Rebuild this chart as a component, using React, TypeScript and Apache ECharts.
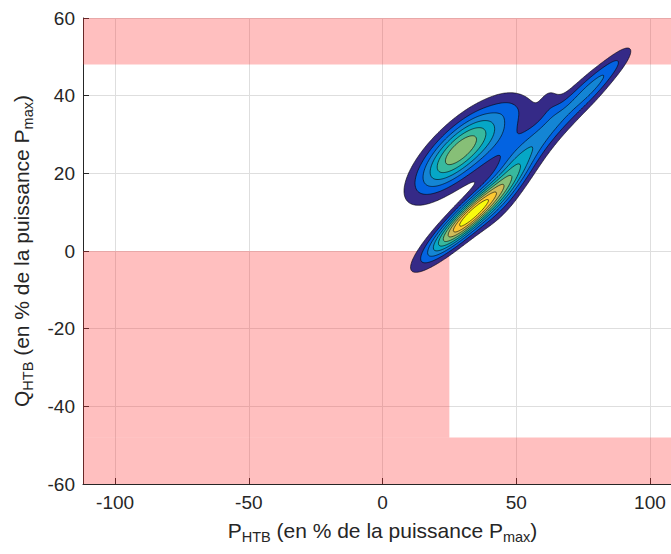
import React, { useEffect, useRef } from 'react';
import * as echarts from 'echarts';

// ---------- data ----------
const yTickStep = 20;
const xMin = -112;
const xMax = 112;
const yMin = -60;
const yMax = 60;

// forbidden (pink) zones: [x0, x1] x [y0, y1]
const zoneX0 = [-112, -112, -112];
const zoneX1 = [112, 25, 112];
const zoneY0 = [48, -48, -60];
const zoneY1 = [60, 0, -48];

// density surface = sum of oriented Gaussian bumps
const compCx = [33.3, 24.45, 32.15, 46, 85.5, 77, 68, 59, 50, 62.5, 48, 45];
const compCy = [9.3, 23.3, 27.9, 30, 47, 41.4, 35.4, 29, 22.5, 38.5, 37, 13];
const compSa = [12.5, 11, 11, 11, 7.5, 6.6, 6.6, 6.6, 6.6, 3.6, 4, 8];
const compSb = [2.4, 4.2, 4.2, 5, 2.0, 2.5, 2.7, 2.8, 2.9, 2.6, 2.0, 3];
const compAng = [32, 31, 31, 30, 34, 34, 34, 34, 34, 60, 0, 40];
const compAmp = [9.8, 3.55, 3.55, 1.6, 1.9, 2.1, 2.0, 2.1, 2.3, 0.75, 0.4, 1.2];

// contour levels and parula colours
const levels = [1, 2, 3, 4, 5, 6, 7, 8, 9];
const levelColors = ['#352A87', '#0363E1', '#1485D4', '#06A7C6', '#38B99E', '#87BF77', '#D1BB59', '#FEC832', '#F9FB0E'];

// sampling grid of the surface
const gridX0 = -6, gridX1 = 104, gridY0 = -16, gridY1 = 60, gridStep = 0.4;

const FONT = '"Liberation Sans", Arial, Helvetica, sans-serif';
const AX = '#262626';

function density(x: number, y: number) {
  let s = 0;
  for (let k = 0; k < compAmp.length; k++) {
    const a = (compAng[k] * Math.PI) / 180;
    const dx = x - compCx[k];
    const dy = y - compCy[k];
    const u = (dx * Math.cos(a) + dy * Math.sin(a)) / compSa[k];
    const w = (-dx * Math.sin(a) + dy * Math.cos(a)) / compSb[k];
    s += compAmp[k] * Math.exp(-0.5 * (u * u + w * w));
  }
  return s;
}

type Ring = { level: number; pts: number[][] };

function buildRings(): Ring[] {
  const xs: number[] = [];
  const ys: number[] = [];
  for (let x = gridX0; x <= gridX1 + 1e-9; x += gridStep) xs.push(x);
  for (let y = gridY0; y <= gridY1 + 1e-9; y += gridStep) ys.push(y);
  const nx = xs.length, ny = ys.length;
  const vals = new Float64Array(nx * ny);
  for (let j = 0; j < ny; j++) for (let i = 0; i < nx; i++) vals[j * nx + i] = density(xs[i], ys[j]);
  const V = (i: number, j: number) => vals[j * nx + i];
  const out: Ring[] = [];
  levels.forEach((L, li) => {
    const adj = new Map<number, number[]>();
    const add = (a: number, b: number) => {
      if (!adj.has(a)) adj.set(a, []);
      if (!adj.has(b)) adj.set(b, []);
      adj.get(a)!.push(b);
      adj.get(b)!.push(a);
    };
    for (let j = 0; j < ny - 1; j++) {
      for (let i = 0; i < nx - 1; i++) {
        const bl = V(i, j) >= L ? 1 : 0;
        const br = V(i + 1, j) >= L ? 1 : 0;
        const tr = V(i + 1, j + 1) >= L ? 1 : 0;
        const tl = V(i, j + 1) >= L ? 1 : 0;
        const code = bl | (br << 1) | (tr << 2) | (tl << 3);
        if (code === 0 || code === 15) continue;
        const eB = (j * nx + i) * 2;
        const eT = ((j + 1) * nx + i) * 2;
        const eL = (j * nx + i) * 2 + 1;
        const eR = (j * nx + i + 1) * 2 + 1;
        const center = (V(i, j) + V(i + 1, j) + V(i + 1, j + 1) + V(i, j + 1)) / 4 >= L;
        switch (code) {
          case 1: case 14: add(eL, eB); break;
          case 2: case 13: add(eB, eR); break;
          case 3: case 12: add(eL, eR); break;
          case 4: case 11: add(eR, eT); break;
          case 6: case 9: add(eB, eT); break;
          case 7: case 8: add(eL, eT); break;
          case 5:
            if (center) { add(eB, eR); add(eL, eT); } else { add(eL, eB); add(eR, eT); }
            break;
          case 10:
            if (center) { add(eL, eB); add(eR, eT); } else { add(eB, eR); add(eL, eT); }
            break;
        }
      }
    }
    const pointOf = (key: number) => {
      const idx = key >> 1;
      const i = idx % nx;
      const j = Math.floor(idx / nx);
      if ((key & 1) === 0) {
        const v0 = V(i, j), v1 = V(i + 1, j);
        const t = (L - v0) / (v1 - v0);
        return [xs[i] + t * (xs[i + 1] - xs[i]), ys[j]];
      }
      const v0 = V(i, j), v1 = V(i, j + 1);
      const t = (L - v0) / (v1 - v0);
      return [xs[i], ys[j] + t * (ys[j + 1] - ys[j])];
    };
    const seen = new Set<number>();
    adj.forEach((_, start) => {
      if (seen.has(start)) return;
      const ring: number[][] = [];
      let prev = -1;
      let cur = start;
      for (let guard = 0; guard < 200000; guard++) {
        seen.add(cur);
        ring.push(pointOf(cur));
        const nb = adj.get(cur)!;
        const next = nb[0] !== prev ? nb[0] : nb[1];
        if (next === undefined || next === start) break;
        if (seen.has(next)) break;
        prev = cur;
        cur = next;
      }
      if (ring.length > 2) out.push({ level: li, pts: ring });
    });
  });
  return out;
}

export default function App() {
  const ref = useRef<HTMLDivElement>(null);
  useEffect(() => {
    const chart = echarts.init(ref.current!, undefined, { renderer: 'svg' });
    const rings = buildRings();
    const zones = zoneX0.map((x0, i) => [x0, zoneY0[i], zoneX1[i], zoneY1[i]]);

    const rich = {
      m: { fontSize: 21, lineHeight: 28, verticalAlign: 'middle', fontFamily: FONT, color: AX },
      s: { fontSize: 14.5, lineHeight: 15, verticalAlign: 'bottom', fontFamily: FONT, color: AX },
    };

    const option: any = {
      animation: false,
      grid: { left: 83, right: -11, top: 18, bottom: 70, containLabel: false, outerBoundsMode: 'none' },
      xAxis: {
        type: 'value',
        min: xMin,
        max: xMax,
        splitNumber: 5,
        name: '{m|P}{s|HTB}{m| (en % de la puissance P}{s|max}{m|)}',
        nameLocation: 'middle',
        nameGap: 32,
        nameTextStyle: { rich },
        axisLine: { show: true, onZero: false, lineStyle: { color: AX, width: 1 } },
        axisTick: { show: true, inside: true, length: 6, lineStyle: { color: AX } },
        axisLabel: { fontSize: 19, color: AX, fontFamily: FONT, margin: 9, showMinLabel: false, showMaxLabel: false },
        splitLine: { show: true, lineStyle: { color: '#dedede', width: 1 } },
      },
      yAxis: {
        type: 'value',
        min: yMin,
        max: yMax,
        interval: yTickStep,
        name: '{m|Q}{s|HTB}{m| (en % de la puissance P}{s|max}{m|)}',
        nameLocation: 'middle',
        nameRotate: 90,
        nameGap: 48,
        nameTextStyle: { rich },
        axisLine: { show: true, onZero: false, lineStyle: { color: AX, width: 1 } },
        axisTick: { show: true, inside: true, length: 6, lineStyle: { color: AX } },
        axisLabel: { fontSize: 19, color: AX, fontFamily: FONT, margin: 8 },
        splitLine: { show: true, lineStyle: { color: '#dedede', width: 1 } },
      },
      series: [
        {
          type: 'custom',
          silent: true,
          z: 1,
          data: zones,
          renderItem: (params: any, api: any) => {
            const p0 = api.coord([api.value(0), api.value(3)]);
            const p1 = api.coord([api.value(2), api.value(1)]);
            return {
              type: 'rect',
              shape: { x: p0[0], y: p0[1], width: p1[0] - p0[0], height: p1[1] - p0[1] },
              style: { fill: 'rgba(255,42,42,0.3)' },
            };
          },
        },
        {
          type: 'custom',
          silent: true,
          z: 3,
          data: [[0, 0]],
          renderItem: (params: any, api: any) => ({
            type: 'group',
            children: rings.map((r) => ({
              type: 'polygon',
              z2: r.level,
              shape: { points: r.pts.map((p) => api.coord(p)) },
              style: { fill: levelColors[r.level], stroke: '#000', lineWidth: 0.6 },
            })),
          }),
        },
      ],
    };
    chart.setOption(option);
    return () => chart.dispose();
  }, []);
  return <div ref={ref} style={{ width: 671, height: 554, position: 'absolute', left: 0, top: 0 }} />;
}
